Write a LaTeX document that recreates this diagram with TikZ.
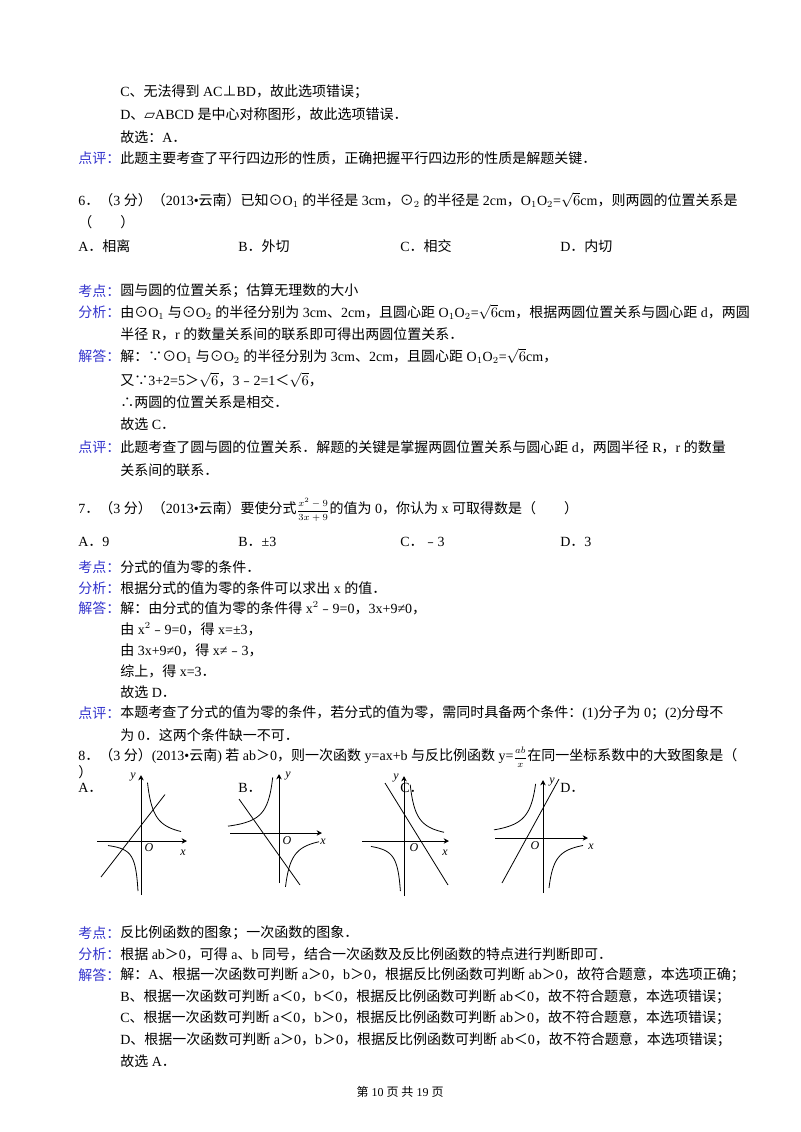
\documentclass[tikz,border=0pt]{standalone}
\usepackage{amsmath}
\usepackage{fontspec}
\usetikzlibrary{arrows.meta}
\setmainfont{Liberation Serif}
\newfontfamily\cjk{Noto Sans CJK SC}
\newfontfamily\latinf{Liberation Serif}
\newfontfamily\dejavu{DejaVu Sans}
\XeTeXinterchartokenstate=1
\newXeTeXintercharclass\CJKcls
\makeatletter
\def\setcls#1#2{\count@=#1\relax\loop\XeTeXcharclass\count@=\CJKcls\ifnum\count@<#2\advance\count@ 1\repeat}
\makeatother
\setcls{"4E00}{"9FFF}
\setcls{"3000}{"303F}
\setcls{"FF00}{"FFEF}
\setcls{"FE50}{"FE6F}
\XeTeXcharclass"2235=\CJKcls
\XeTeXcharclass"2234=\CJKcls
\XeTeXcharclass"22A5=\CJKcls
\XeTeXcharclass"2299=\CJKcls
\XeTeXinterchartoks 0 \CJKcls = {\cjk}
\XeTeXinterchartoks 4095 \CJKcls = {\cjk}
\XeTeXinterchartoks \CJKcls 0 = {\latinf}
\XeTeXinterchartoks \CJKcls 4095 = {\latinf}
\definecolor{lab}{RGB}{51,51,204}
\newcommand\smfrac[2]{{\fontsize{7.5}{8}\selectfont$\dfrac{#1}{#2}$}}
\begin{document}
\begin{tikzpicture}[x=0.75pt,y=-0.75pt,
  t/.style={anchor=west,inner sep=0,font=\fontsize{10.5}{12}\selectfont},
  lb/.style={t,text=lab},
  ax/.style={line width=0.7pt,-{Stealth[length=4pt,width=4pt]}},
  cv/.style={line width=0.6pt},
  gl/.style={inner sep=0,font=\fontsize{9}{10}\selectfont\itshape}]
\useasboundingbox (0,0) rectangle (800,1132);
% top part
\node[t] (a1) at (120,92) {C、无法得到 AC⊥BD，故此选项错误；};
\node[t] (a2) at (120,114) {D、{\dejavu ▱}ABCD 是中心对称图形，故此选项错误．};
\node[t] (a3) at (120,137) {故选：A．};
\node[lb] (l1) at (78,158) {点评：};
\node[t] (a4) at (120,158) {此题主要考查了平行四边形的性质，正确把握平行四边形的性质是解题关键．};
% Q6
\node[t] (q6) at (78,200) {6．（3 分）（2013•云南）已知⊙O$_1$ 的半径是 3cm，⊙$_2$ 的半径是 2cm，O$_1$O$_2$=$\sqrt{6}$cm，则两圆的位置关系是};
\node[t] (q6b) at (78,222) {（\quad\quad ）};
\node[t] (o6a) at (78,246) {A．相离};
\node[t] (o6b) at (238,246) {B．外切};
\node[t] (o6c) at (400,246) {C．相交};
\node[t] (o6d) at (560,246) {D．内切};
\node[lb] (l2) at (78,291) {考点：};
\node[t] (k6) at (120,291) {圆与圆的位置关系；估算无理数的大小};
\node[lb] (l3) at (78,312) {分析：};
\node[t] (f6) at (120,312) {由⊙O$_1$ 与⊙O$_2$ 的半径分别为 3cm、2cm，且圆心距 O$_1$O$_2$=$\sqrt{6}$cm，根据两圆位置关系与圆心距 d，两圆};
\node[t] (f6b) at (120,334) {半径 R，r 的数量关系间的联系即可得出两圆位置关系．};
\node[lb] (l4) at (78,356) {解答：};
\node[t] (j6) at (120,356) {解：∵⊙O$_1$ 与⊙O$_2$ 的半径分别为 3cm、2cm，且圆心距 O$_1$O$_2$=$\sqrt{6}$cm，};
\node[t] (j6b) at (120,380) {又∵3+2=5＞$\sqrt{6}$，3﹣2=1＜$\sqrt{6}$，};
\node[t] (j6c) at (120,402) {∴两圆的位置关系是相交．};
\node[t] (j6d) at (120,424) {故选 C．};
\node[lb] (l5) at (78,447) {点评：};
\node[t] (p6) at (120,447) {此题考查了圆与圆的位置关系．解题的关键是掌握两圆位置关系与圆心距 d，两圆半径 R，r 的数量};
\node[t] (p6b) at (120,470) {关系间的联系．};
% Q7
\node[t] (q7) at (78,510) {7．（3 分）（2013•云南）要使分式\smfrac{x^2-9}{3x+9}的值为 0，你认为 x 可取得数是（\quad\quad ）};
\node[t] (o7a) at (78,542) {A．9};
\node[t] (o7b) at (238,542) {B．±3};
\node[t] (o7c) at (400,542) {C．﹣3};
\node[t] (o7d) at (560,542) {D．3};
\node[lb] (l6) at (78,567) {考点：};
\node[t] (k7) at (120,567) {分式的值为零的条件．};
\node[lb] (l7) at (78,588) {分析：};
\node[t] (f7) at (120,588) {根据分式的值为零的条件可以求出 x 的值．};
\node[lb] (l8) at (78,608) {解答：};
\node[t] (j7) at (120,608) {解：由分式的值为零的条件得 x$^2$﹣9=0，3x+9≠0，};
\node[t] (j7b) at (120,629) {由 x$^2$﹣9=0，得 x=±3，};
\node[t] (j7c) at (120,650) {由 3x+9≠0，得 x≠﹣3，};
\node[t] (j7d) at (120,671) {综上，得 x=3．};
\node[t] (j7e) at (120,692) {故选 D．};
\node[lb] (l9) at (78,713) {点评：};
\node[t] (p7) at (120,713) {本题考查了分式的值为零的条件，若分式的值为零，需同时具备两个条件：(1)分子为 0；(2)分母不};
\node[t] (p7b) at (120,735) {为 0．这两个条件缺一不可．};
% Q8
\node[t] (q8) at (78,757) {8．（3 分）(2013•云南) 若 ab＞0，则一次函数 y=ax+b 与反比例函数 y=\smfrac{ab}{x}在同一坐标系数中的大致图象是（};
\node[t] (q8b) at (78,772) {）};
\node[t] (ga) at (78,788) {A．};
\node[t] (gb) at (238,788) {B．};
\node[t] (gc) at (400,788) {C．};
\node[t] (gd) at (560,788) {D．};
% graph A
\begin{scope}[shift={(141,841)},y=0.75pt,x=0.75pt]
\draw[ax] (-44,0) -- (46,0);
\draw[ax] (0,-54) -- (0,66);
\draw[cv] plot[domain=6.5:40,samples=40,smooth] (\x,{380/\x});
\draw[cv] plot[domain=-33:-3,samples=40,smooth] (\x,{150/\x});
\draw[cv] (-40,-36) -- (24,46.5);
\node[gl] (ya) at (-8,64) {y};
\node[gl] (oa) at (8,-7) {O};
\node[gl] (xa) at (42,-12) {x};
\end{scope}
% graph B
\begin{scope}[shift={(279,833)},y=0.75pt,x=0.75pt]
\draw[ax] (-49,0) -- (43,0);
\draw[ax] (0,-50) -- (0,59);
\draw[cv] plot[domain=-51:-6.3,samples=40,smooth] (\x,{-350/\x});
\draw[cv] plot[domain=6.5:40,samples=40,smooth] (\x,{-350/\x});
\draw[cv] (-40,34) -- (21,-52);
\node[gl] (yb) at (9,57) {y};
\node[gl] (ob) at (8,-8) {O};
\node[gl] (xb) at (44,-9) {x};
\end{scope}
% graph C
\begin{scope}[shift={(404,841)},y=0.75pt,x=0.75pt]
\draw[ax] (-42,0) -- (45,0);
\draw[ax] (0,-55) -- (0,65);
\draw[cv] plot[domain=6.2:40,samples=40,smooth] (\x,{350/\x});
\draw[cv] plot[domain=-33:-3.6,samples=40,smooth] (\x,{180/\x});
\draw[cv] (-19,58) -- (44,-44);
\node[gl] (yc) at (-8,63) {y};
\node[gl] (oc) at (10,-7) {O};
\node[gl] (xc) at (41,-12) {x};
\end{scope}
% graph D
\begin{scope}[shift={(543,838)},y=0.75pt,x=0.75pt]
\draw[ax] (-48,0) -- (45,0);
\draw[ax] (0,-55) -- (0,58);
\draw[cv] plot[domain=-49:-7.4,samples=40,smooth] (\x,{-400/\x});
\draw[cv] plot[domain=6:40,samples=40,smooth] (\x,{-300/\x});
\draw[cv] (-41,-45) -- (16,59);
\node[gl] (yd) at (9,56) {y};
\node[gl] (od) at (-8,-8) {O};
\node[gl] (xd) at (48,-9) {x};
\end{scope}
\node[lb] (l10) at (78,933) {考点：};
\node[t] (k8) at (120,933) {反比例函数的图象；一次函数的图象．};
\node[lb] (l11) at (78,954) {分析：};
\node[t] (f8) at (120,954) {根据 ab＞0，可得 a、b 同号，结合一次函数及反比例函数的特点进行判断即可．};
\node[lb] (l12) at (78,975) {解答：};
\node[t] (j8) at (120,975) {解：A、根据一次函数可判断 a＞0，b＞0，根据反比例函数可判断 ab＞0，故符合题意，本选项正确；};
\node[t] (j8b) at (120,997) {B、根据一次函数可判断 a＜0，b＜0，根据反比例函数可判断 ab＜0，故不符合题意，本选项错误；};
\node[t] (j8c) at (120,1018) {C、根据一次函数可判断 a＜0，b＞0，根据反比例函数可判断 ab＞0，故不符合题意，本选项错误；};
\node[t] (j8d) at (120,1040) {D、根据一次函数可判断 a＞0，b＞0，根据反比例函数可判断 ab＜0，故不符合题意，本选项错误；};
\node[t] (j8e) at (120,1061) {故选 A．};
\node[inner sep=0,font=\fontsize{9}{10}\selectfont] (pg) at (400,1092) {第 10 页 共 19 页};
\end{tikzpicture}
\end{document}
